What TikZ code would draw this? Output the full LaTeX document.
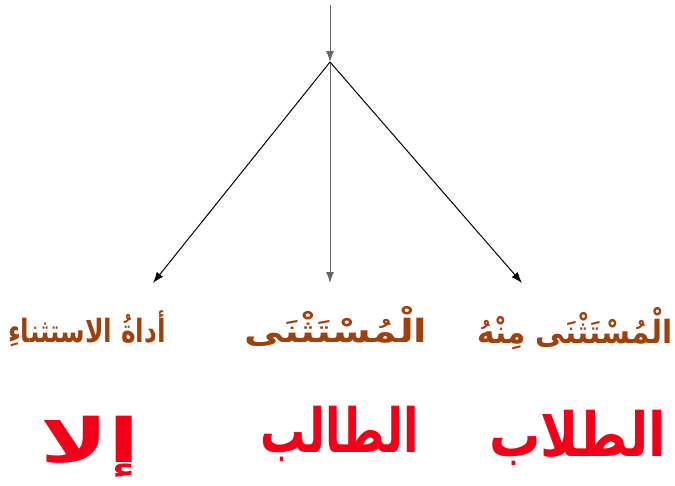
\documentclass[tikz,border=0pt]{standalone}
\usepackage{fontspec}
\newfontfamily\arabicfont[Script=Arabic]{DejaVu Sans}
\TeXXeTstate=1
\usetikzlibrary{arrows.meta}
\definecolor{labelbrown}{HTML}{A0400C}
\definecolor{bigred}{HTML}{F2001A}
\tikzset{
  conn/.style={line width=1pt, -{Latex[length=11pt,width=8pt]}},
  lab/.style={text=labelbrown, font=\arabicfont\bfseries\fontsize{32}{36}\selectfont, inner sep=0pt, anchor=base},
  big/.style={text=bigred, font=\arabicfont\bfseries\fontsize{61}{70}\selectfont, inner sep=0pt, anchor=base},
}
\begin{document}
\begin{tikzpicture}[x=1pt,y=-1pt]
\useasboundingbox (0,0) rectangle (675,485);
\coordinate (top) at (330,5);
\coordinate (j) at (330,62);
\coordinate (el) at (153,283);
\coordinate (em) at (330,283);
\coordinate (er) at (522,283);
\draw[conn, draw=black!60] (top) -- (j);
\draw[conn] (j) -- (el);
\draw[conn, draw=black!60] (j) -- (em);
\draw[conn] (j) -- (er);
\node[lab] (l1) at (87,342) {\scalebox{0.78}[1]{\beginR أداةُ الاستثناءِ\endR}};
\node[lab] (l2) at (336,342) {\scalebox{1.23}[1]{\beginR الْمُسْتَثْنَى\endR}};
\node[lab] (l3) at (575,343) {\scalebox{0.92}[1]{\beginR الْمُسْتَثْنَى مِنْهُ\endR}};
\node[big] (b1) at (90,462) {\scalebox{1.5}[1]{\beginR إلا\endR}};
\node[big] (b2) at (340,452) {\scalebox{0.74}[1]{\beginR الطالب\endR}};
\node[big] (b3) at (578,456) {\scalebox{0.84}[1]{\beginR الطلاب\endR}};
\end{tikzpicture}
\end{document}
